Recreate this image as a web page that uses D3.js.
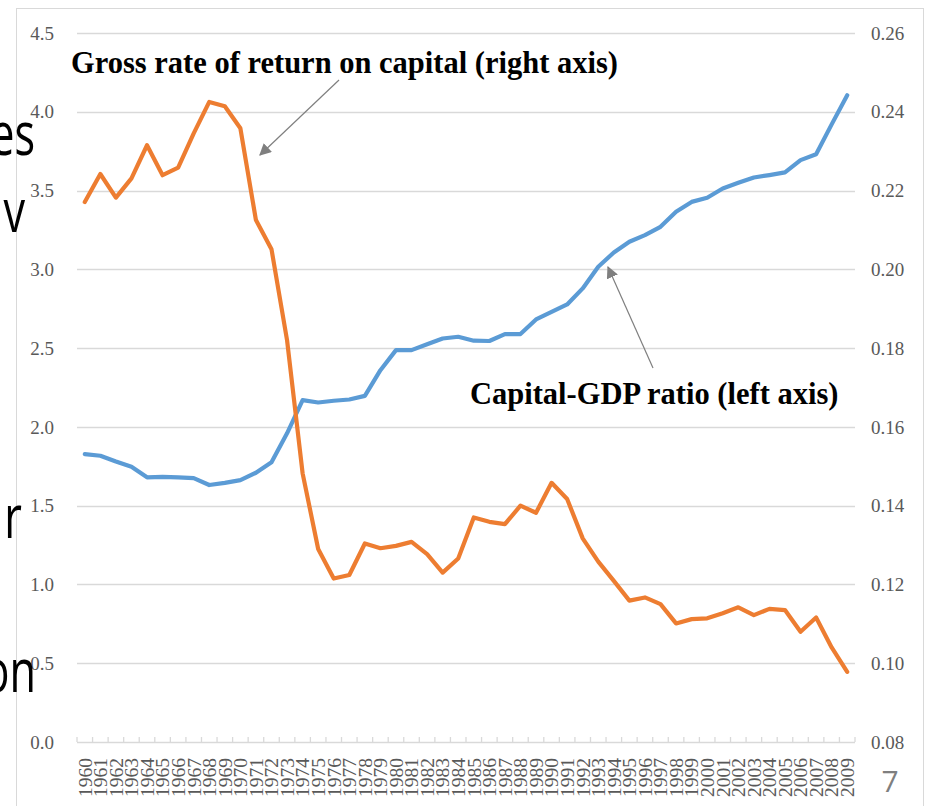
<!DOCTYPE html>
<html>
<head>
<meta charset="utf-8">
<script src="https://cdn.jsdelivr.net/npm/d3@7"></script>
<style>
	html, body { margin: 0; padding: 0; background: #fff; }
	svg { display: block; }
</style>
</head>
<body>
<svg class="chart"></svg>
<script>
const [width, height] = [928, 806]

// Years on the category axis.
const years = d3.range(1960, 2010)

// Capital-GDP ratio (left axis).
const capitalGdp = [
	1.827, 1.817, 1.78, 1.747, 1.68, 1.683, 1.68, 1.675, 1.631, 1.645,
	1.662, 1.709, 1.775, 1.959, 2.17, 2.155, 2.166, 2.174, 2.197, 2.36,
	2.487, 2.487, 2.525, 2.561, 2.572, 2.547, 2.545, 2.589, 2.589, 2.682,
	2.73, 2.777, 2.879, 3.016, 3.107, 3.175, 3.217, 3.27, 3.365, 3.428,
	3.454, 3.513, 3.549, 3.583, 3.598, 3.615, 3.693, 3.73, 3.92, 4.105,
]

// Gross rate of return on capital (right axis).
const returnRate = [
	0.2171, 0.2242, 0.2182, 0.2231, 0.2315, 0.2239, 0.2258, 0.2345, 0.2425, 0.2414,
	0.2358, 0.2125, 0.2051, 0.182, 0.1482, 0.129, 0.1215, 0.1224, 0.1304, 0.1292,
	0.1298, 0.1308, 0.1277, 0.123, 0.1266, 0.137, 0.1359, 0.1353, 0.14, 0.1382,
	0.1458, 0.1417, 0.1317, 0.1258, 0.1209, 0.1159, 0.1167, 0.115, 0.1101, 0.1112,
	0.1114, 0.1127, 0.1142, 0.1122, 0.1138, 0.1135, 0.108, 0.1116, 0.104, 0.0978,
]

const leftTicks = [0, 0.5, 1, 1.5, 2, 2.5, 3, 3.5, 4, 4.5]
const rightTicks = [0.08, 0.1, 0.12, 0.14, 0.16, 0.18, 0.2, 0.22, 0.24, 0.26]

const plot = { left: 77, right: 855, top: 33, bottom: 742 }
const serif = '"Liberation Serif", "Times New Roman", serif'
const grey = '#595959'

const svg = d3.select('svg.chart')
	.attr('width', width)
	.attr('height', height)
	.attr('viewBox', `0 0 ${width} ${height}`)

const x = d3.scaleBand().domain(years).range([plot.left, plot.right]).padding(0)
const yLeft = d3.scaleLinear().domain([0, 4.5]).range([plot.bottom, plot.top])
const yRight = d3.scaleLinear().domain([0.08, 0.26]).range([plot.bottom, plot.top])
const cx = d => x(d) + x.bandwidth() / 2

// chart frame
svg.append('rect')
	.attr('x', 16.5).attr('y', 8.5)
	.attr('width', 907).attr('height', 820)
	.attr('fill', '#fff')
	.attr('stroke', '#d9d9d9')

// gridlines
svg.append('g')
	.selectAll('line')
		.data(leftTicks.slice(1))
	.enter().append('line')
		.attr('x1', plot.left).attr('x2', plot.right)
		.attr('y1', d => Math.round(yLeft(d)) + 0.5)
		.attr('y2', d => Math.round(yLeft(d)) + 0.5)
		.attr('stroke', '#d9d9d9')
		.attr('stroke-width', 1.3)

// left axis labels
svg.append('g')
	.selectAll('text')
		.data(leftTicks)
	.enter().append('text')
		.attr('x', 54)
		.attr('y', d => yLeft(d))
		.attr('dy', '0.35em')
		.attr('text-anchor', 'end')
		.attr('font-family', serif)
		.attr('font-size', 19)
		.attr('fill', grey)
		.text(d3.format('.1f'))

// right axis labels
svg.append('g')
	.selectAll('text')
		.data(rightTicks)
	.enter().append('text')
		.attr('x', 871)
		.attr('y', d => yRight(d))
		.attr('dy', '0.35em')
		.attr('font-family', serif)
		.attr('font-size', 19)
		.attr('fill', grey)
		.text(d3.format('.2f'))

// category axis
const xAxis = svg.append('g')
xAxis.append('line')
	.attr('x1', plot.left).attr('x2', plot.right)
	.attr('y1', plot.bottom + 0.5).attr('y2', plot.bottom + 0.5)
	.attr('stroke', '#d9d9d9').attr('stroke-width', 1.3)
xAxis.selectAll('line.tick')
		.data(years.concat([null]))
	.enter().append('line')
		.attr('class', 'tick')
		.attr('x1', d => d === null ? plot.right : x(d))
		.attr('x2', d => d === null ? plot.right : x(d))
		.attr('y1', plot.bottom).attr('y2', plot.bottom - 5)
		.attr('stroke', '#d9d9d9').attr('stroke-width', 1.3)
xAxis.selectAll('text')
		.data(years)
	.enter().append('text')
		.attr('transform', d => `translate(${cx(d)},758) rotate(-90)`)
		.attr('dy', '0.35em')
		.attr('text-anchor', 'end')
		.attr('font-family', serif)
		.attr('font-size', 19.5)
		.attr('fill', grey)
		.text(d => d)

// series
const lineLeft = d3.line().x((d, i) => cx(years[i])).y(d => yLeft(d))
const lineRight = d3.line().x((d, i) => cx(years[i])).y(d => yRight(d))

svg.append('path')
	.attr('d', lineLeft(capitalGdp))
	.attr('fill', 'none')
	.attr('stroke', '#5b9bd5')
	.attr('stroke-width', 4.2)
	.attr('stroke-linejoin', 'round')
	.attr('stroke-linecap', 'round')

svg.append('path')
	.attr('d', lineRight(returnRate))
	.attr('fill', 'none')
	.attr('stroke', '#ed7d31')
	.attr('stroke-width', 4.2)
	.attr('stroke-linejoin', 'round')
	.attr('stroke-linecap', 'round')

// annotations with arrows
svg.append('defs').append('marker')
	.attr('id', 'head')
	.attr('viewBox', '0 0 10 10')
	.attr('refX', 9).attr('refY', 5)
	.attr('markerWidth', 12).attr('markerHeight', 12)
	.attr('markerUnits', 'userSpaceOnUse')
	.attr('orient', 'auto')
	.append('path')
		.attr('d', 'M0,0L10,5L0,10Z')
		.attr('fill', '#7f7f7f')

const arrows = [
	[339, 80, 260, 155],
	[653, 368, 608, 267],
]
svg.append('g')
	.selectAll('line')
		.data(arrows)
	.enter().append('line')
		.attr('x1', d => d[0]).attr('y1', d => d[1])
		.attr('x2', d => d[2]).attr('y2', d => d[3])
		.attr('stroke', '#7f7f7f')
		.attr('stroke-width', 1.2)
		.attr('marker-end', 'url(#head)')

const notes = [
	[71, 73, 'Gross rate of return on capital (right axis)'],
	[470, 404, 'Capital-GDP ratio (left axis)'],
]
svg.append('g')
	.selectAll('text')
		.data(notes)
	.enter().append('text')
		.attr('x', d => d[0]).attr('y', d => d[1])
		.attr('font-family', serif)
		.attr('font-weight', 'bold')
		.attr('font-size', 30.5)
		.attr('fill', '#000')
		.text(d => d[2])

// slide text peeking out behind the chart (narrow, like Calibri)
const slideBits = [
	[35, 155, 'es'],
	[25, 232, 'v'],
	[22, 538, 'r'],
	[36, 692, 'on'],
]
svg.append('g')
	.selectAll('text')
		.data(slideBits)
	.enter().append('text')
		.attr('transform', d => `translate(${d[0]},${d[1]}) scale(0.72,1)`)
		.attr('text-anchor', 'end')
		.attr('font-family', '"Open Sans", sans-serif')
		.attr('font-size', 60)
		.attr('fill', '#000')
		.text(d => d[2])

svg.append('text')
	.attr('x', 890).attr('y', 792)
	.attr('text-anchor', 'middle')
	.attr('font-family', '"Open Sans", sans-serif')
	.attr('font-size', 30)
	.attr('fill', '#7f7f7f')
	.text('7')
</script>
</body>
</html>
